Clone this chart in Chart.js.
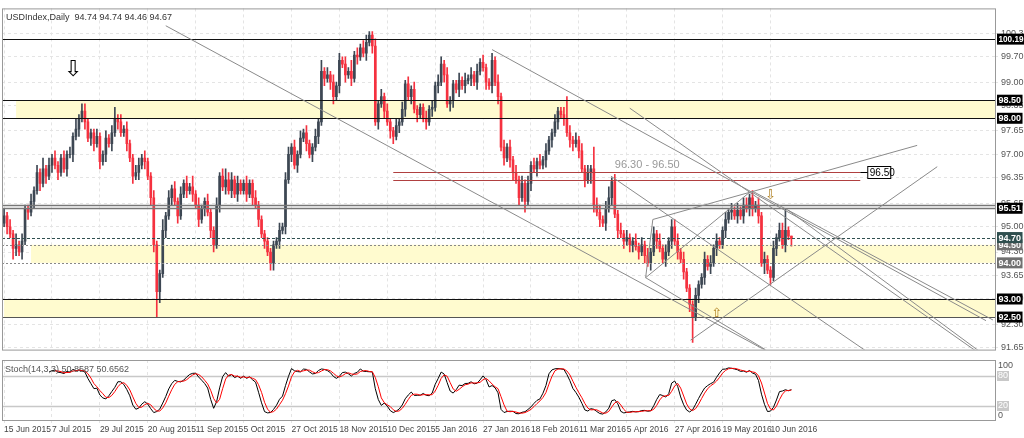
<!DOCTYPE html>
<html>
<head>
<meta charset="utf-8">
<script src="https://cdn.jsdelivr.net/npm/chart.js@4.4.1/dist/chart.umd.min.js"></script>
<style>
body { margin:0; background:#fff; width:1024px; height:438px; overflow:hidden; }
canvas { display:block; }
</style>
</head>
<body>
<canvas id="main" width="1024" height="358"></canvas>
<canvas id="stoch" width="1024" height="80"></canvas>
<script>
// daily closes, 15 Jun 2015 .. 15 Jun 2016
const closes = [
  95.3,95.0,94.8,94.4,94.5,94.3,94.6,95.5,95.4,95.7,
  96.0,96.5,96.2,96.6,96.4,96.7,96.9,96.7,96.5,96.9,
  96.6,97.0,97.0,97.5,97.7,98.0,98.2,97.9,97.45,97.6,
  97.3,97.5,96.8,97.0,97.45,97.3,97.6,98.0,97.9,97.6,
  97.7,97.3,96.9,96.4,96.5,96.7,96.9,96.8,96.4,95.8,
  94.5,93.2,93.7,94.9,95.3,95.8,96.05,95.7,95.3,95.9,
  96.2,96.0,96.1,95.9,95.6,95.2,95.5,95.7,95.4,94.9,
  94.5,95.6,96.4,96.1,96.3,96.0,96.3,95.9,96.2,96.0,
  96.2,95.9,96.2,95.8,95.6,95.2,94.8,94.6,94.3,94.0,
  94.5,94.6,94.9,95.0,96.3,97.0,97.2,96.7,97.0,97.45,
  97.6,97.3,97.0,97.2,97.5,97.9,99.3,99.1,99.2,99.0,
  98.6,98.9,99.6,99.5,99.2,99.3,99.1,99.75,99.7,99.95,
  99.8,100.1,100.3,100.0,97.9,98.4,98.6,98.2,97.9,97.65,
  97.5,97.8,97.9,98.25,98.95,98.6,98.8,98.25,98.1,98.3,
  98.0,97.9,98.25,98.3,98.9,99.0,99.5,99.2,98.4,98.5,
  98.95,98.8,99.05,98.9,99.05,99.1,99.2,99.0,99.3,99.55,
  99.4,99.0,98.9,99.6,99.0,98.6,97.2,96.9,97.2,96.85,
  96.5,96.3,95.8,96.2,95.7,96.2,96.7,96.6,96.8,96.7,
  96.85,97.1,97.4,97.6,97.9,98.2,98.1,98.0,97.6,97.4,
  97.3,97.4,97.1,96.6,96.3,96.5,96.6,95.6,95.4,95.2,
  95.1,95.5,95.8,96.25,95.35,94.9,94.8,94.6,94.7,94.5,
  94.6,94.45,94.3,94.5,94.2,94.0,94.3,94.8,94.6,94.4,
  94.1,94.3,94.6,95.0,94.6,94.3,94.1,93.75,93.3,92.85,
  92.5,93.1,93.4,93.6,94.1,93.9,94.0,94.4,94.6,94.5,
  94.9,95.2,95.4,95.45,95.3,95.45,95.3,95.6,95.5,95.8,
  95.5,95.6,95.3,94.0,94.1,93.8,93.6,94.4,94.7,94.9,
  94.5,94.9,94.74,94.67
];
const firstOpen = 95.1;
// wick lengths in tenths above / below the body
const upperWicks = (
  "2121312112 1213121211 2121312211 1211212312 1211221211 2113121212 1213121121 1212322121 1211211111 1121221212 " +
  "1211213121 2121213121 2211212121 1212121211 1212122121 1121212121 2112121212 1212121212 1211211262 1212121622 " +
  "1231212121 1212121212 1212221211 1211212121 1212121221 2121211212 2610").replace(/ /g, "");
const lowerWicks = (
  "1213212121 2121212121 1212121212 2121212121 1212121212 2731212121 1212121212 2121212121 1212121212 2121212121 " +
  "1212121212 2121212121 1212121212 2121212121 1212121212 2121212121 1212121212 2121312121 1212121212 2121213212 " +
  "1212121212 2121212121 1212121212 7121212121 1212121212 2121312121 1212").replace(/ /g, "");

const dateLabels = ["15 Jun 2015","7 Jul 2015","29 Jul 2015","20 Aug 2015","11 Sep 2015","5 Oct 2015",
  "27 Oct 2015","18 Nov 2015","10 Dec 2015","5 Jan 2016","27 Jan 2016","18 Feb 2016","11 Mar 2016",
  "5 Apr 2016","27 Apr 2016","19 May 2016","10 Jun 2016"];
const priceTicks = [100.35,99.70,99.00,98.35,97.65,97.00,96.35,95.65,95.00,94.30,93.65,93.00,92.30,91.65];

// horizontal levels: [price, label box colour]
const levels = [[100.19,"#000"],[98.50,"#000"],[98.00,"#000"],[95.51,"#000"],[93.00,"#000"],[92.50,"#000"],
  [94.50,"#707070"],[94.00,"#707070"],[94.70,"#2f4f4f"]];
// zones: [top, bottom, startBar]
const zones = [[98.5,98.0,4],[94.5,94.0,9],[93.0,92.5,0]];
// trend lines: [bar1, price1, bar2, price2]
const trendLines = [
  [54,100.56,255,91.55],[163,99.9,328,92.4],[209,98.28,325,91.54],[202.7,96.4,288.3,91.54],
  [250.3,95.97,330.3,92.42],[261.7,95.47,326,91.54],[216.7,95.2,305,97.25],[214.3,93.59,249.3,95.97],
  [214.3,93.59,216.7,95.2],[229.3,91.86,311.7,96.66],[214.3,93.59,254.3,91.6]
];

const opens = [], highs = [], lows = [];
closes.forEach((c, i) => {
  const o = i === 0 ? firstOpen : closes[i - 1];
  opens.push(o);
  highs.push(Math.max(o, c) + (+(upperWicks[i] || 1)) / 10);
  lows.push(Math.min(o, c) - (+(lowerWicks[i] || 1)) / 10);
});
highs[closes.length - 1] = 94.74; lows[closes.length - 1] = 94.46;

// Stochastic 14,3,3
const kLine = [], dLine = [];
const raw = closes.map((c, i) => {
  if (i < 13) return null;
  const hh = Math.max(...highs.slice(i - 13, i + 1)), ll = Math.min(...lows.slice(i - 13, i + 1));
  return [c - ll, hh - ll];
});
closes.forEach((c, i) => {
  if (i < 15) { kLine.push(null); return; }
  let a = 0, b = 0;
  for (let j = i - 2; j <= i; j++) { a += raw[j][0]; b += raw[j][1]; }
  kLine.push(100 * a / b);
});
kLine.forEach((k, i) => {
  if (i < 17) { dLine.push(null); return; }
  dLine.push((kLine[i] + kLine[i - 1] + kLine[i - 2]) / 3);
});

const BULL = "#3d4753", BEAR = "#f5313f";
const FONT = "Liberation Sans";
const colors = closes.map((c, i) => c >= opens[i] ? BULL : BEAR);
const X_MIN = -0.7, X_MAX = 331;

function boxLabel(ctx, x, y, text, bg, fg) {
  ctx.font = "bold 9px '" + FONT + "'";
  const w = Math.min(ctx.measureText(text).width + 3, 27);
  ctx.fillStyle = bg;
  ctx.fillRect(x, y - 5.5, w, 11);
  ctx.fillStyle = fg;
  ctx.textAlign = "left"; ctx.textBaseline = "middle";
  ctx.fillText(text, x + 1.5, y + 0.5, 25);
}

const overlay = {
  id: "overlay",
  beforeDatasetsDraw(chart) {
    const { ctx, chartArea: a, scales: { x, y } } = chart;
    ctx.save();
    ctx.fillStyle = "#fffbcf";
    zones.forEach(([t, b, s]) => {
      const x0 = Math.max(a.left, x.getPixelForValue(s));
      ctx.fillRect(x0, y.getPixelForValue(t), a.right - x0, y.getPixelForValue(b) - y.getPixelForValue(t));
    });
    ctx.restore();
  },
  afterDatasetsDraw(chart) {
    const { ctx, chartArea: a, scales: { x, y } } = chart;
    ctx.save();
    ctx.beginPath(); ctx.rect(a.left, a.top, a.right - a.left, a.bottom - a.top); ctx.clip();
    levels.forEach(([p]) => {
      const py = Math.round(y.getPixelForValue(p)) + 0.5;
      ctx.beginPath();
      if (p === 94.70) { ctx.strokeStyle = "#2f4f4f"; ctx.setLineDash([3, 2]); ctx.lineWidth = 1; }
      else if (p === 94.50 || p === 94.00) { ctx.strokeStyle = "#888"; ctx.setLineDash([2, 2]); ctx.lineWidth = 1; }
      else if (p === 95.51) { ctx.strokeStyle = "#777"; ctx.setLineDash([]); ctx.lineWidth = 1.5; }
      else { ctx.strokeStyle = p === 92.50 ? "#555" : "#111"; ctx.setLineDash([]); ctx.lineWidth = 1.2; }
      ctx.moveTo(a.left, py); ctx.lineTo(a.right, py); ctx.stroke();
      if (p === 95.51) { ctx.beginPath(); ctx.moveTo(a.left, py - 3); ctx.lineTo(a.right, py - 3); ctx.stroke(); }
    });
    ctx.setLineDash([]);
    ctx.strokeStyle = "#b04040"; ctx.lineWidth = 1;
    [96.5, 96.3].forEach(p => {
      const py = Math.round(y.getPixelForValue(p)) + 0.5;
      ctx.beginPath(); ctx.moveTo(x.getPixelForValue(130), py); ctx.lineTo(x.getPixelForValue(286), py); ctx.stroke();
    });
    const p65 = Math.round(y.getPixelForValue(96.5)) + 0.5;
    ctx.strokeStyle = "#000";
    ctx.beginPath(); ctx.moveTo(x.getPixelForValue(286), p65); ctx.lineTo(x.getPixelForValue(288.5), p65); ctx.stroke();
    ctx.fillStyle = "#fff"; ctx.fillRect(x.getPixelForValue(288.5), p65 - 6, 23, 12);
    ctx.strokeRect(x.getPixelForValue(288.5), p65 - 6, 23, 12);
    ctx.fillStyle = "#000"; ctx.font = "10px '" + FONT + "'"; ctx.textBaseline = "middle"; ctx.textAlign = "left";
    ctx.fillText("96.50", x.getPixelForValue(288.5) + 2, p65 + 0.5);
    ctx.fillStyle = "#999"; ctx.font = "11px '" + FONT + "'"; ctx.textBaseline = "alphabetic";
    ctx.fillText("96.30 - 96.50", x.getPixelForValue(204), y.getPixelForValue(96.62));
    ctx.strokeStyle = "#8a8a8a"; ctx.lineWidth = 1;
    trendLines.forEach(([b1, p1, b2, p2]) => {
      ctx.beginPath();
      ctx.moveTo(x.getPixelForValue(b1), y.getPixelForValue(p1));
      ctx.lineTo(x.getPixelForValue(b2), y.getPixelForValue(p2));
      ctx.stroke();
    });
    ctx.textAlign = "center"; ctx.textBaseline = "middle";
    ctx.font = "22px 'DejaVu Sans'"; ctx.fillStyle = "#000";
    ctx.fillText("⇩", x.getPixelForValue(23), y.getPixelForValue(99.34));
    ctx.font = "13px 'DejaVu Sans'"; ctx.fillStyle = "#b08020";
    ctx.fillText("⇩", x.getPixelForValue(256), y.getPixelForValue(95.87));
    ctx.fillText("⇧", x.getPixelForValue(238), y.getPixelForValue(92.6));
    ctx.restore();
    ctx.save();
    ctx.strokeStyle = "#999"; ctx.lineWidth = 1;
    ctx.strokeRect(a.left + 0.5, a.top + 0.5, a.right - a.left, a.bottom - a.top);
    ctx.fillStyle = "#333"; ctx.font = "9px '" + FONT + "'"; ctx.textAlign = "left"; ctx.textBaseline = "middle";
    ctx.fillText("USDIndex,Daily  94.74 94.74 94.46 94.67", a.left + 4, a.top + 9);
    levels.forEach(([p, c]) => boxLabel(ctx, a.right + 2, y.getPixelForValue(p), p.toFixed(2), c, "#fff"));
    ctx.restore();
  }
};

new Chart(document.getElementById("main"), {
  type: "bar",
  data: {
    datasets: [
      { data: closes.map((c, i) => ({ x: i, y: [lows[i], highs[i]] })), backgroundColor: colors, barThickness: 1, grouped: false, order: 2 },
      { data: closes.map((c, i) => ({ x: i, y: [opens[i], c] })), backgroundColor: colors, barThickness: 2, grouped: false, order: 1 }
    ]
  },
  options: {
    responsive: false, animation: false,
    layout: { padding: { left: 2, top: 2, right: 0, bottom: 0 } },
    plugins: { legend: { display: false }, tooltip: { enabled: false } },
    scales: {
      x: {
        type: "linear", min: X_MIN, max: X_MAX, offset: false,
        afterBuildTicks: s => { s.ticks = dateLabels.map((d, i) => ({ value: i * 16 })); },
        afterFit: s => { s.height = 0; },
        ticks: { display: false },
        grid: { color: "#e4e4e4", tickLength: 0, drawTicks: false, offset: false },
        border: { display: false, dash: [3, 3] }
      },
      y: {
        position: "right", min: 91.6, max: 101.04,
        afterBuildTicks: s => { s.ticks = priceTicks.map(v => ({ value: v })); },
        afterFit: s => { s.width = 29; },
        ticks: { font: { size: 9, family: FONT }, color: "#555", padding: 3, callback: v => v.toFixed(2) },
        grid: { color: "#e4e4e4", drawTicks: true, tickLength: 3 },
        border: { display: false, dash: [3, 3] }
      }
    }
  },
  plugins: [overlay]
});

const stochOverlay = {
  id: "stochOverlay",
  beforeDatasetsDraw(chart) {
    const { ctx, chartArea: a, scales: { y } } = chart;
    ctx.save();
    ctx.strokeStyle = "#c8c8c8"; ctx.lineWidth = 1.5;
    [80, 20].forEach(v => {
      const py = Math.round(y.getPixelForValue(v)) + 0.5;
      ctx.beginPath(); ctx.moveTo(a.left, py); ctx.lineTo(a.right, py); ctx.stroke();
    });
    ctx.restore();
  },
  afterDatasetsDraw(chart) {
    const { ctx, chartArea: a, scales: { y } } = chart;
    ctx.save();
    ctx.strokeStyle = "#999"; ctx.lineWidth = 1;
    ctx.strokeRect(a.left + 0.5, a.top + 0.5, a.right - a.left, a.bottom - a.top);
    ctx.fillStyle = "#555"; ctx.font = "9px '" + FONT + "'"; ctx.textAlign = "left"; ctx.textBaseline = "middle";
    ctx.fillText("Stoch(14,3,3) 50.8587 50.6562", a.left + 3, a.top + 10);
    ctx.fillText("100", a.right + 3, y.getPixelForValue(100));
    ctx.fillText("0", a.right + 3, y.getPixelForValue(0));
    [80, 20].forEach(v => {
      ctx.fillStyle = "#c8c8c8"; ctx.fillRect(a.right + 2, y.getPixelForValue(v) - 5, 12, 10);
      ctx.fillStyle = "#fff"; ctx.fillText(String(v), a.right + 3, y.getPixelForValue(v));
    });
    ctx.restore();
  }
};

new Chart(document.getElementById("stoch"), {
  type: "line",
  data: {
    datasets: [
      { data: dLine.map((v, i) => ({ x: i, y: v })), borderColor: "#ff0000", borderWidth: 1, pointRadius: 0 },
      { data: kLine.map((v, i) => ({ x: i, y: v })), borderColor: "#000", borderWidth: 1, pointRadius: 0 }
    ]
  },
  options: {
    responsive: false, animation: false,
    layout: { padding: { left: 2, top: 2, right: 0, bottom: 0 } },
    plugins: { legend: { display: false }, tooltip: { enabled: false } },
    scales: {
      x: {
        type: "linear", min: X_MIN, max: X_MAX, offset: false,
        afterBuildTicks: s => { s.ticks = dateLabels.map((d, i) => ({ value: i * 16 })); },
        afterFit: s => { s.height = 18; },
        ticks: { font: { size: 8.5, family: FONT }, color: "#444", align: "start", maxRotation: 0, autoSkip: false,
          padding: 2, callback: (v) => dateLabels[Math.round(v / 16)] },
        grid: { color: "#e4e4e4", drawTicks: true, tickLength: 3 },
        border: { display: false, dash: [3, 3] }
      },
      y: {
        position: "right", min: -8, max: 112,
        afterBuildTicks: s => { s.ticks = []; },
        afterFit: s => { s.width = 29; },
        ticks: { display: false },
        grid: { display: false },
        border: { display: false }
      }
    }
  },
  plugins: [stochOverlay]
});
</script>
</body>
</html>
